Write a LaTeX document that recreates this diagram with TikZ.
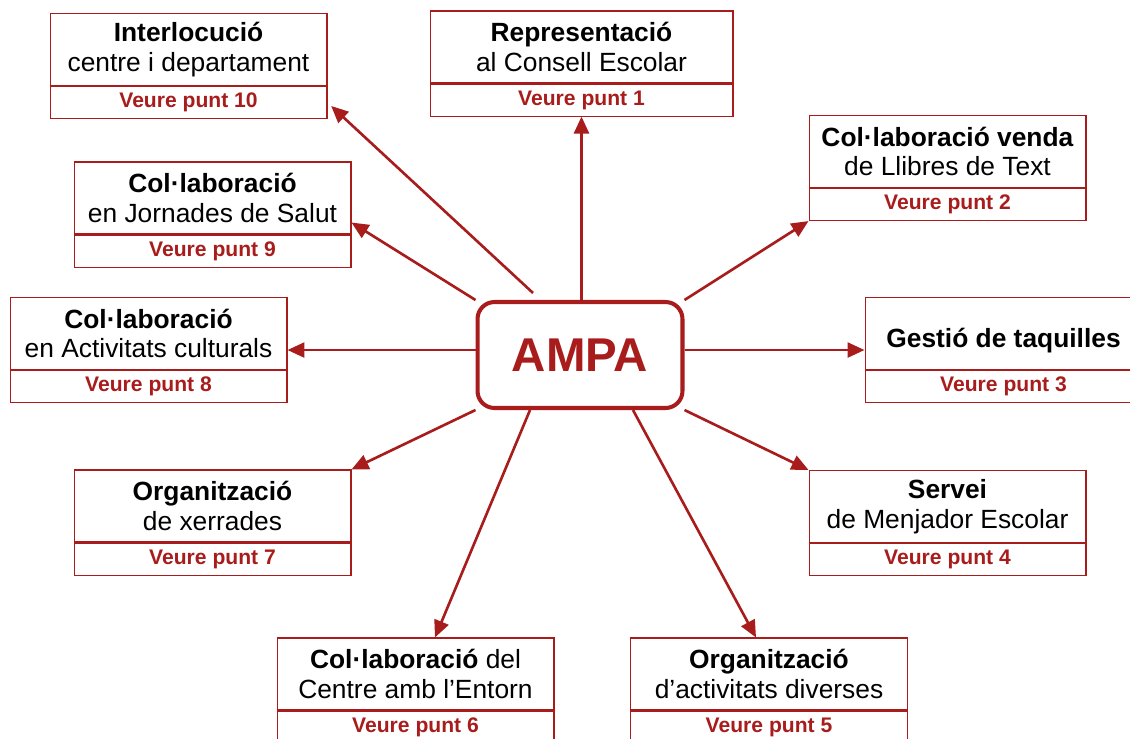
\documentclass[tikz,border=0pt]{standalone}
\usepackage{fontspec}
\setmainfont{Liberation Sans}
\usetikzlibrary{arrows.meta,calc}
\definecolor{vermell}{RGB}{168,28,28}

\begin{document}
\begin{tikzpicture}[x=0.02cm, y=-0.02cm,
    tema/.style={draw=vermell, line width=0.6pt, minimum width=5.54cm, minimum height=1.44cm,
        inner sep=0pt, align=center, font=\fontsize{15pt}{17pt}\selectfont},
    punt/.style={draw=vermell, line width=0.6pt, minimum width=5.54cm, minimum height=0.64cm,
        inner sep=0pt, anchor=north, text=vermell, font=\fontsize{12pt}{14pt}\selectfont\bfseries},
    fletxa/.style={draw=vermell, line width=1.5pt, -{Triangle[length=0.34cm, width=0.3cm]}}
]

    \useasboundingbox (0,0) rectangle (1130,738);

    % Central node
    \node[draw=vermell, line width=2.3pt, rounded corners=0.34cm, minimum width=4.1cm,
          minimum height=2.12cm, text=vermell, font=\fontsize{27pt}{30pt}\selectfont\bfseries]
          (ampa) at (580,355) {AMPA};

    % Boxes, top row and right side (punts 1 to 4)
    \node[tema, minimum width=6.06cm] (consell) at (581.5,47) {\textbf{Representació}\\al Consell Escolar};
    \node[punt, minimum width=6.06cm] (consell-p) at (consell.south) {Veure punt 1};

    \node[tema] (llibres) at (947.5,151.5) {\textbf{Col·laboració venda}\\de Llibres de Text};
    \node[punt] (llibres-p) at (llibres.south) {Veure punt 2};

    \node[tema, text height=0.54cm, text depth=0cm] (taquilles) at (1003.5,333.5) {\textbf{Gestió de taquilles}};
    \node[punt] (taquilles-p) at (taquilles.south) {Veure punt 3};

    \node[tema] (menjador) at (947.5,506.5) {\textbf{Servei}\\de Menjador Escolar};
    \node[punt] (menjador-p) at (menjador.south) {Veure punt 4};

    % Boxes, bottom row (punts 5 and 6)
    \node[tema] (diverses) at (769,674) {\textbf{Organització}\\d’activitats diverses};
    \node[punt] (diverses-p) at (diverses.south) {Veure punt 5};

    \node[tema] (entorn) at (415.5,674) {\textbf{Col·laboració} del\\Centre amb l’Entorn};
    \node[punt] (entorn-p) at (entorn.south) {Veure punt 6};

    % Boxes, left side (punts 7 to 10)
    \node[tema] (xerrades) at (212.5,506) {\textbf{Organització}\\de xerrades};
    \node[punt] (xerrades-p) at (xerrades.south) {Veure punt 7};

    \node[tema] (cultura) at (148.5,333.5) {\textbf{Col·laboració}\\en Activitats culturals};
    \node[punt] (cultura-p) at (cultura.south) {Veure punt 8};

    \node[tema] (salut) at (212.5,198) {\textbf{Col·laboració}\\en Jornades de Salut};
    \node[punt] (salut-p) at (salut.south) {Veure punt 9};

    \node[tema] (interl) at (188.5,49.5) {\textbf{Interlocució}\\centre i departament};
    \node[punt] (interl-p) at (interl.south) {Veure punt 10};

    % Arrows out of AMPA
    \draw[fletxa] (consell-p.south |- ampa.north) -- (consell-p.south);
    \draw[fletxa] (ampa.north east) -- (llibres-p.south west);
    \coordinate (taq-mig) at ($(taquilles.north west)!0.5!(taquilles-p.south west)$);
    \draw[fletxa] (ampa.east |- taq-mig) -- (taq-mig);
    \draw[fletxa] (ampa.south east) -- (menjador.north west);
    \draw[fletxa] ([xshift=1.06cm]ampa.south) -- ([xshift=-0.26cm]diverses.north);
    \draw[fletxa] ([xshift=-1cm]ampa.south) -- ([xshift=0.39cm]entorn.north);
    \draw[fletxa] (ampa.south west) -- (xerrades.north east);
    \coordinate (cult-mig) at ($(cultura.north east)!0.5!(cultura-p.south east)$);
    \draw[fletxa] (ampa.west |- cult-mig) -- (cult-mig);
    \draw[fletxa] (ampa.north west) -- (salut.-10);
    \draw[fletxa, shorten >=0.1cm] ([shift={(-0.94cm,0.14cm)}]ampa.north) -- (interl-p.east);

\end{tikzpicture}
\end{document}
